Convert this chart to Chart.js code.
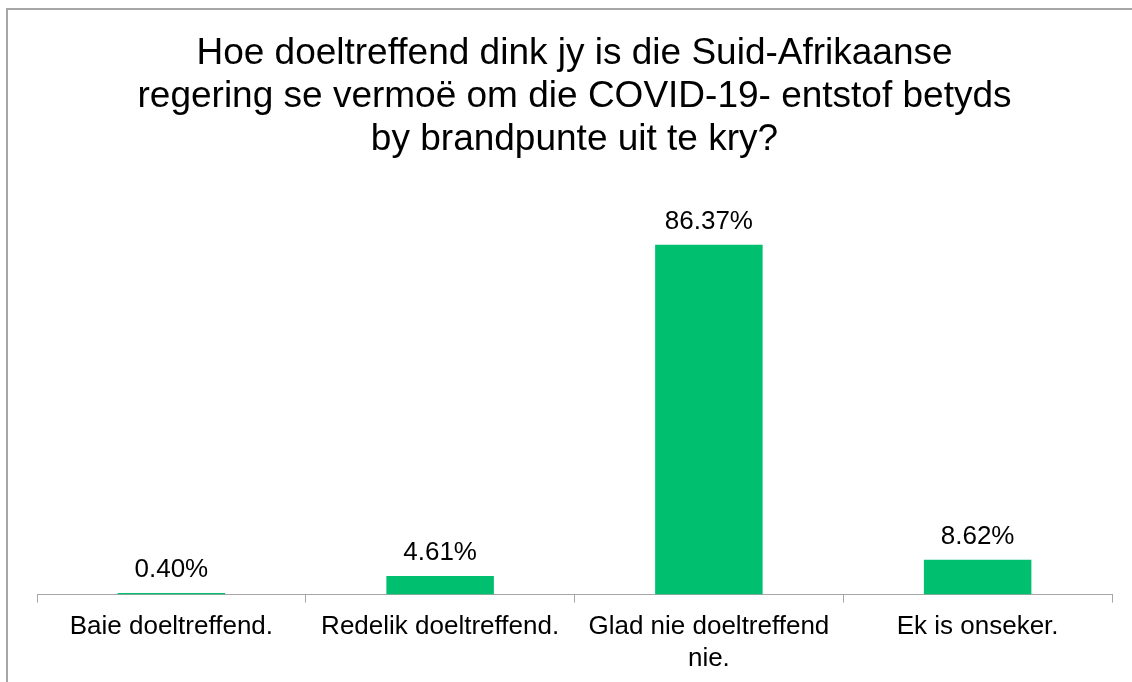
<!DOCTYPE html>
<html>
<head>
<meta charset="utf-8">
<script src="https://cdn.jsdelivr.net/npm/chart.js@4/dist/chart.umd.min.js"></script>
<style>
  body { margin: 0; background: #ffffff; overflow: hidden; }
  #frame {
    position: absolute; left: 6px; top: 8px; width: 1200px; height: 800px;
    border-left: 2px solid #a6a6a6; border-top: 2px solid #a6a6a6;
  }
  #myChart { position: absolute; left: 0; top: 0; }
</style>
</head>
<body>
<div id="frame"></div>
<canvas id="myChart" width="1132" height="682"></canvas>
<script>
const titleLines = [
  "Hoe doeltreffend dink jy is die Suid-Afrikaanse",
  "regering se vermoë om die COVID-19- entstof betyds",
  "by brandpunte uit te kry?"
];
const categories = [
  "Baie doeltreffend.",
  "Redelik doeltreffend.",
  ["Glad nie doeltreffend", "nie."],
  "Ek is onseker."
];
const percentages = [0.40, 4.61, 86.37, 8.62];
const valueLabels = ["0.40%", "4.61%", "86.37%", "8.62%"];

const fontFamily = "'Liberation Sans', Arial, sans-serif";
const barGreen = "#00bf6f";
const axisGrey = "#a6a6a6";

let valueLabelPlugin = {
  id: "valueLabels",
  afterDatasetsDraw: (chart) => {
    let ctx = chart.ctx;
    let meta = chart.getDatasetMeta(0);
    ctx.save();
    ctx.font = `26px ${fontFamily}`;
    ctx.fillStyle = "#000000";
    ctx.textAlign = "center";
    ctx.textBaseline = "alphabetic";
    meta.data.forEach((bar, i) => {
      ctx.fillText(valueLabels[i], bar.x, bar.y - 16);
    });
    ctx.restore();
  }
};

const data = {
  labels: categories,
  datasets: [
    {
      data: percentages,
      backgroundColor: barGreen,
      borderWidth: 0,
      barPercentage: 0.4,
      categoryPercentage: 1.0,
    },
  ],
};

const config = {
  type: "bar",
  data: data,
  options: {
    responsive: false,
    animation: false,
    layout: {
      padding: { left: 37, right: 20, top: 0, bottom: -1 }
    },
    plugins: {
      legend: { display: false },
      tooltip: { enabled: false },
      title: {
        display: true,
        text: titleLines,
        color: "#000000",
        font: { family: fontFamily, size: 37, weight: "normal", lineHeight: 1.15 },
        padding: { top: 33, bottom: 29 },
      },
    },
    scales: {
      y: {
        display: false,
        min: 0,
        max: 100,
      },
      x: {
        offset: true,
        border: { display: true, color: axisGrey, width: 1 },
        grid: {
          offset: true,
          drawOnChartArea: false,
          drawTicks: true,
          tickLength: 8,
          color: axisGrey,
        },
        ticks: {
          color: "#000000",
          padding: 9,
          maxRotation: 0,
          autoSkip: false,
          font: { family: fontFamily, size: 26, lineHeight: 1.2 },
        },
      },
    },
  },
  plugins: [valueLabelPlugin],
};

const myChart = new Chart(document.getElementById("myChart"), config);
</script>
</body>
</html>
